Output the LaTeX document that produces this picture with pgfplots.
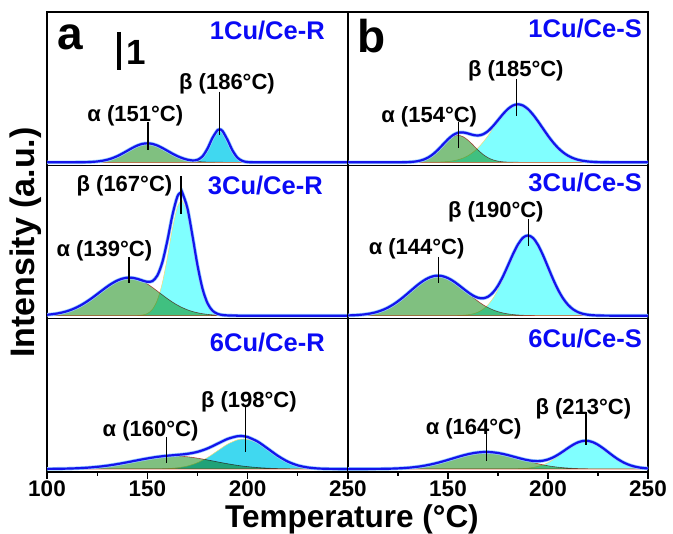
\documentclass[border=0pt]{standalone}
\usepackage{fontspec}
\setmainfont{Liberation Sans}
\usepackage{pgfplots}
\pgfplotsset{compat=1.18}
\usepackage{pgfplotstable}

\definecolor{ga}{RGB}{128,192,128}
\definecolor{cb}{RGB}{128,255,255}
\definecolor{cbd}{RGB}{64,216,240}
\definecolor{env}{RGB}{20,20,235}
\definecolor{halo}{RGB}{150,205,255}
\definecolor{lbl}{RGB}{10,10,245}
\definecolor{redl}{RGB}{230,90,90}
\definecolor{yell}{RGB}{240,220,120}

% 1Cu/Ce-R
\pgfplotstableread{
x a b s
100 0 0 0
112.5 0 0 0
115 0.04 0 0.04
117.5 0.10 0 0.10
120 0.21 0 0.21
122.5 0.43 0 0.43
125 0.83 0 0.83
127.5 1.51 0 1.51
130 2.57 0 2.57
132.5 4.11 0 4.11
135 6.17 0 6.17
137.5 8.70 0 8.70
140 11.52 0 11.52
142.5 14.34 0 14.34
145 16.77 0 16.77
147.5 18.42 0 18.42
150 19.00 0 19.00
152.5 18.42 0 18.42
155 16.77 0 16.77
157.5 14.34 0 14.34
160 11.52 0 11.52
162.5 8.70 0 8.70
165 6.17 0 6.17
167.5 4.11 0.01 4.12
170 2.57 0.06 2.63
172.5 1.51 0.37 1.88
175 0.83 1.66 2.49
177.5 0.43 5.54 5.97
180 0.21 13.57 13.78
182.5 0.10 24.40 24.50
185 0.04 32.20 32.24
186 0.03 33.00 33.03
187.5 0.02 31.20 31.22
190 0 22.20 22.20
192.5 0 11.60 11.60
195 0 4.47 4.47
197.5 0 1.26 1.26
200 0 0.26 0.26
202.5 0 0.04 0.04
205 0 0 0
250 0 0 0
}\tRa

% 3Cu/Ce-R
\pgfplotstableread{
x a b s
100 0.91 0 0.91
102.5 1.41 0 1.41
105 2.13 0 2.13
107.5 3.14 0 3.14
110 4.49 0 4.49
112.5 6.25 0 6.25
115 8.46 0 8.46
117.5 11.14 0 11.14
120 14.26 0 14.26
122.5 17.76 0 17.76
125 21.51 0 21.51
127.5 25.35 0 25.35
130 29.04 0 29.04
132.5 32.37 0 32.37
135 35.08 0 35.08
137.5 36.98 0 36.98
140 37.92 0 37.92
142.5 37.81 0 37.81
145 36.67 0.14 36.81
147.5 34.60 0.59 35.19
150 31.74 2.08 33.82
152.5 28.33 6.20 34.53
155 24.58 15.57 40.15
157.5 20.75 32.80 53.55
160 17.04 58.20 75.24
162.5 13.60 86.80 100.40
165 10.56 108.70 119.26
167 8.46 115.00 123.46
167.5 7.98 114.60 122.58
170 5.86 101.40 107.26
172.5 4.19 75.50 79.69
175 2.91 47.30 50.21
177.5 1.97 24.90 26.87
180 1.29 11.00 12.29
182.5 0.83 4.09 4.92
185 0.51 1.28 1.79
187.5 0.31 0.34 0.65
190 0.18 0.07 0.25
192.5 0.10 0 0.10
195 0.06 0 0.06
197.5 0 0 0
250 0 0 0
}\tRb

% 6Cu/Ce-R
\pgfplotstableread{
x a b s
100 0.09 0 0.09
105 0.19 0 0.19
110 0.39 0 0.39
115 0.73 0 0.73
120 1.29 0 1.29
125 2.14 0 2.14
130 3.33 0 3.33
135 4.88 0 4.88
140 6.71 0 6.71
145 8.67 0 8.67
150 10.52 0.03 10.55
155 12.00 0.13 12.13
160 12.85 0.42 13.27
165 12.94 1.20 14.14
170 12.23 2.95 15.18
175 10.86 6.27 17.13
180 9.06 11.50 20.56
185 7.10 18.20 25.30
190 5.23 24.83 30.06
195 3.61 29.21 32.82
198 2.81 30.00 32.81
200 2.35 29.65 32.00
205 1.43 25.95 27.38
210 0.82 19.59 20.41
215 0.44 12.76 13.20
220 0.22 7.16 7.38
225 0.11 3.47 3.58
230 0.05 1.45 1.50
235 0 0.52 0.52
240 0 0.16 0.16
245 0 0.04 0.04
250 0 0 0
}\tRc

% 1Cu/Ce-S
\pgfplotstableread{
x a b s
100 0 0 0
125 0 0 0
127.5 0.07 0 0.07
130 0.20 0 0.20
132.5 0.52 0 0.52
135 1.19 0 1.19
137.5 2.47 0.02 2.49
140 4.65 0.05 4.70
142.5 7.97 0.11 8.08
145 12.36 0.22 12.58
147.5 17.40 0.44 17.84
150 22.21 0.82 23.03
152.5 25.71 1.48 27.19
155 27.00 2.55 29.55
157.5 25.71 4.20 29.91
160 22.21 6.62 28.83
162.5 17.40 10.00 27.40
165 12.36 14.47 26.83
167.5 7.97 20.03 28.00
170 4.65 26.55 31.20
172.5 2.47 33.72 36.19
175 1.19 40.98 42.17
177.5 0.52 47.71 48.23
180 0.20 53.18 53.38
182.5 0.07 56.75 56.82
185 0.02 58.00 58.02
187.5 0 56.75 56.75
190 0 53.18 53.18
192.5 0 47.71 47.71
195 0 40.98 40.98
197.5 0 33.72 33.72
200 0 26.55 26.55
202.5 0 20.03 20.03
205 0 14.47 14.47
207.5 0 10.00 10.00
210 0 6.62 6.62
212.5 0 4.20 4.20
215 0 2.55 2.55
217.5 0 1.48 1.48
220 0 0.82 0.82
222.5 0 0.44 0.44
225 0 0.22 0.22
227.5 0 0.11 0.11
230 0 0.05 0.05
232.5 0 0 0
250 0 0 0
}\tSa

% 3Cu/Ce-S
\pgfplotstableread{
x a b s
100 0.23 0 0.23
102.5 0.40 0 0.40
105 0.68 0 0.68
107.5 1.11 0 1.11
110 1.76 0 1.76
112.5 2.70 0 2.70
115 4.03 0 4.03
117.5 5.81 0 5.81
120 8.12 0 8.12
122.5 11.00 0 11.00
125 14.42 0 14.42
127.5 18.31 0 18.31
130 22.53 0 22.53
132.5 26.85 0 26.85
135 30.99 0 30.99
137.5 34.65 0 34.65
140 37.53 0 37.53
142.5 39.37 0 39.37
145 40.00 0 40.00
147.5 39.37 0 39.37
150 37.53 0.02 37.55
152.5 34.65 0.07 34.72
155 30.99 0.17 31.16
157.5 26.85 0.41 27.26
160 22.53 0.89 23.42
162.5 18.31 1.82 20.13
165 14.42 3.51 17.93
167.5 11.00 6.37 17.37
170 8.12 10.83 18.95
172.5 5.81 17.30 23.11
175 4.03 25.98 30.01
177.5 2.70 36.62 39.32
180 1.76 48.52 50.28
182.5 1.11 60.38 61.49
185 0.68 70.60 71.28
187.5 0.40 77.54 77.94
190 0.23 80.00 80.23
192.5 0.13 77.54 77.67
195 0.07 70.60 70.67
197.5 0.04 60.38 60.42
200 0.02 48.52 48.54
202.5 0 36.62 36.62
205 0 25.98 25.98
207.5 0 17.30 17.30
210 0 10.83 10.83
212.5 0 6.37 6.37
215 0 3.51 3.51
217.5 0 1.82 1.82
220 0 0.89 0.89
222.5 0 0.41 0.41
225 0 0.17 0.17
227.5 0 0.07 0.07
230 0 0.03 0.03
232.5 0 0 0
250 0 0 0
}\tSb

% 6Cu/Ce-S
\pgfplotstableread{
x a b s
100 0 0 0
107.5 0 0 0
110 0.04 0 0.04
112.5 0.07 0 0.07
115 0.11 0 0.11
117.5 0.17 0 0.17
120 0.27 0 0.27
122.5 0.40 0 0.40
125 0.60 0 0.60
127.5 0.86 0 0.86
130 1.22 0 1.22
132.5 1.70 0 1.70
135 2.30 0 2.30
137.5 3.05 0 3.05
140 3.97 0 3.97
142.5 5.04 0 5.04
145 6.28 0 6.28
147.5 7.64 0 7.64
150 9.10 0 9.10
152.5 10.61 0 10.61
155 12.11 0 12.11
157.5 13.52 0 13.52
160 14.78 0 14.78
162.5 15.80 0 15.80
165 16.54 0 16.54
167.5 16.93 0 16.93
170 16.97 0 16.97
172.5 16.64 0 16.64
175 15.97 0 15.97
177.5 15.00 0.02 15.02
180 13.79 0.05 13.84
182.5 12.40 0.11 12.51
185 10.92 0.24 11.16
187.5 9.40 0.46 9.86
190 7.93 0.87 8.80
192.5 6.54 1.54 8.08
195 5.28 2.59 7.87
197.5 4.17 4.14 8.31
200 3.22 6.30 9.52
202.5 2.44 9.09 11.53
205 1.81 12.46 14.27
207.5 1.31 16.21 17.52
210 0.93 20.03 20.96
212.5 0.64 23.51 24.15
215 0.44 26.21 26.65
217.5 0.29 27.74 28.03
220 0.19 27.89 28.08
222.5 0.12 26.62 26.74
225 0.07 24.13 24.20
227.5 0.04 20.77 20.81
230 0.03 16.98 17.01
232.5 0 13.19 13.19
235 0 9.72 9.72
237.5 0 6.81 6.81
240 0 4.53 4.53
242.5 0 2.86 2.86
245 0 1.71 1.71
247.5 0 0.98 0.98
250 0 0.53 0.53
}\tSc

\newcommand{\pk}{\fontsize{22}{22}\selectfont\bfseries}
\newcommand{\sm}{\fontsize{25.5}{25.5}\selectfont\bfseries}
\newcommand{\comps}[2]{%
  \addplot[smooth, draw=yell, line width=0.5pt, fill=#2] table[x=x,y=b]{#1} \closedcycle;
  \addplot[smooth, draw=redl, line width=0.6pt, fill=ga, blend mode=multiply] table[x=x,y=a]{#1} \closedcycle;
  \addplot[smooth, halo, line width=3.6pt] table[x=x,y=s]{#1};
  \addplot[smooth, env, line width=2.2pt] table[x=x,y=s]{#1};
}
\newcommand{\peak}[6]{%
  \node[anchor=base, inner sep=0pt, font=\pk] at (axis cs:#1,#2) {#3};
  \draw[line width=1.4pt] (axis cs:#4,#5) -- (axis cs:#4,#6);
}
\newcommand{\smp}[3]{%
  \node[anchor=base east, inner sep=0pt, text=lbl, font=\sm] at (axis cs:#1,#2) {#3};
}

\pgfplotsset{
  panel/.style={scale only axis, height=153.33pt, xmin=100, xmax=250,
    ymin=-3, ymax=150.33, xtick=\empty, ytick=\empty,
    axis line style={line width=1.3pt}, anchor=south west, clip=true},
  bottomrow/.style={xtick={100,150,200,250}, minor xtick={125,175,225},
    xtick pos=bottom, ytick=\empty, tick align=outside,
    major tick length=7pt, minor tick length=4pt,
    tick style={line width=1.3pt, black},
    xticklabel style={font=\fontsize{22.5}{22.5}\selectfont\bfseries, inner sep=2pt},
    /pgf/number format/assume math mode=true},
}

\begin{document}
\begin{tikzpicture}[x=1pt,y=1pt]
\path[use as bounding box] (0,0) rectangle (673,534);

% ---- row 1 left: 1Cu/Ce-R
\begin{axis}[panel, width=301pt, at={(47pt,368.67pt)}]
\comps{\tRa}{cbd}
\smp{238.5}{122.8}{1Cu/Ce-R}
\node[anchor=base west, inner sep=0pt, font=\fontsize{46}{46}\selectfont\bfseries] at (axis cs:105,113) {a};
\draw[line width=3.4pt] (axis cs:135.9,130.5) -- (axis cs:135.9,92.5);
\node[anchor=base west, inner sep=0pt, font=\fontsize{35}{35}\selectfont\bfseries] at (axis cs:139.6,97.5) {1};
\peak{144}{40.8}{α (151°C)}{150.3}{40.8}{12.8}
\peak{189.7}{72.8}{β (186°C)}{186}{70.8}{27.8}
\end{axis}

% ---- row 1 right: 1Cu/Ce-S
\begin{axis}[panel, width=300pt, at={(348pt,368.67pt)}]
\comps{\tSa}{cb}
\smp{247}{124.8}{1Cu/Ce-S}
\node[anchor=base west, inner sep=0pt, font=\fontsize{46}{46}\selectfont\bfseries] at (axis cs:104.5,109.8) {b};
\peak{140.6}{39.5}{α (154°C)}{155.2}{40.1}{14.5}
\peak{183.9}{86.1}{β (185°C)}{184.3}{83.5}{46.1}
\end{axis}

% ---- row 2 left: 3Cu/Ce-R
\begin{axis}[panel, width=301pt, at={(47pt,215.33pt)}]
\comps{\tRb}{cb}
\smp{237.5}{121.2}{3Cu/Ce-R}
\peak{138.6}{124.5}{β (167°C)}{166.8}{139.5}{101.2}
\peak{128.6}{59.5}{α (139°C)}{140.9}{58.9}{32.2}
\end{axis}

% ---- row 2 right: 3Cu/Ce-S
\begin{axis}[panel, width=300pt, at={(348pt,215.33pt)}]
\comps{\tSb}{cb}
\smp{247}{124.2}{3Cu/Ce-S}
\peak{173.9}{97.9}{β (190°C)}{190.2}{96.2}{69.5}
\peak{134.3}{61.2}{α (144°C)}{145.2}{58.9}{32.9}
\end{axis}

% ---- row 3 left: 6Cu/Ce-R
\begin{axis}[panel, bottomrow, width=301pt, at={(47pt,62pt)}]
\comps{\tRc}{cbd}
\smp{238.5}{117.5}{6Cu/Ce-R}
\peak{200.6}{61.2}{β (198°C)}{199}{61.5}{16.8}
\peak{151.6}{32.8}{α (160°C)}{159.6}{32.2}{5.5}
\end{axis}

% ---- row 3 right: 6Cu/Ce-S
\begin{axis}[panel, bottomrow, width=300pt, at={(348pt,62pt)},
  xticklabels={,150,200,250}]
\comps{\tSc}{cb}
\smp{247}{121.5}{6Cu/Ce-S}
\peak{217.7}{54.5}{β (213°C)}{219}{56.8}{23.5}
\peak{162.8}{34.5}{α (164°C)}{169.3}{42.8}{7.8}
\end{axis}

\node[rotate=90, font=\fontsize{34}{34}\selectfont\bfseries] at (26,291.5) {Intensity (a.u.)};
\node[anchor=base, font=\fontsize{31.5}{31.5}\selectfont\bfseries, inner sep=0pt] at (352,6) {Temperature (°C)};
\end{tikzpicture}
\end{document}
